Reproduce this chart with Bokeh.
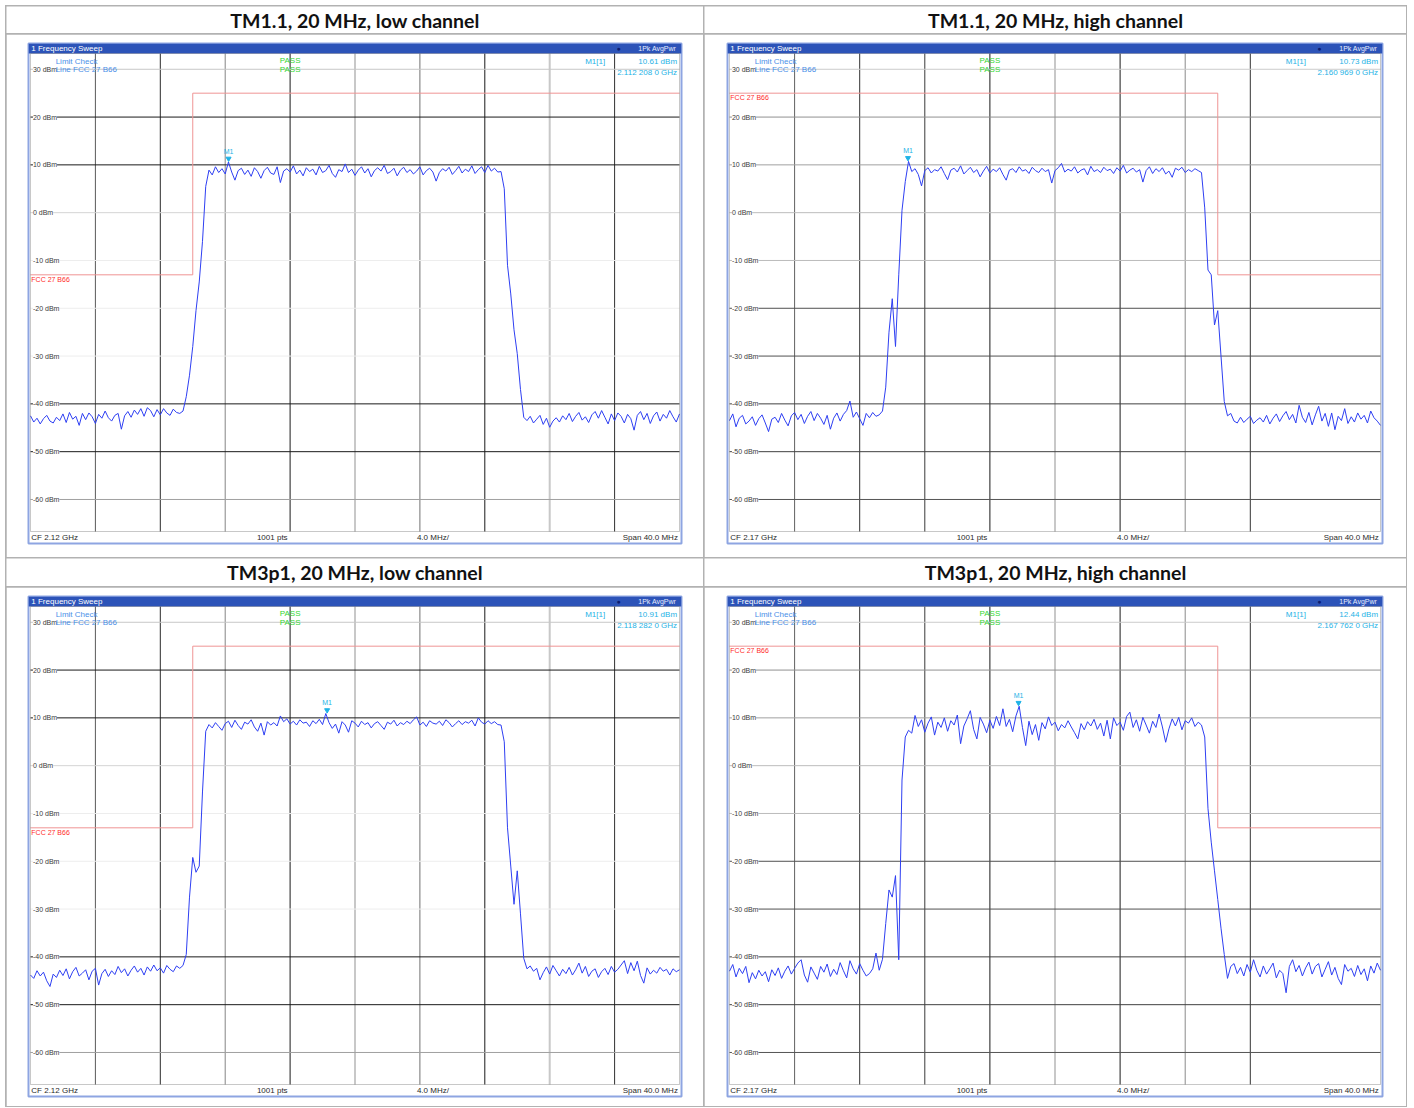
import numpy as np
from bokeh.plotting import figure
from bokeh.layouts import row, column
from bokeh.models import Range1d, Label, BoxAnnotation
from bokeh.embed import file_html
from bokeh.resources import INLINE
from bokeh.core.properties import value

# ------------------------------------------------------------------ data
panel_titles = ["TM1.1, 20 MHz, low channel", "TM1.1, 20 MHz, high channel",
                "TM3p1, 20 MHz, low channel", "TM3p1, 20 MHz, high channel"]
center_freq_mhz = [2120.0, 2170.0, 2120.0, 2170.0]
cf_texts = ["CF 2.12 GHz", "CF 2.17 GHz", "CF 2.12 GHz", "CF 2.17 GHz"]
span_mhz = 40.0
freq_div_mhz = 4.0
points_text = "1001 pts"
div_text = "4.0 MHz/"
span_text = "Span 40.0 MHz"

ref_top_dbm = 33.3
display_range_db = 100.0
level_ticks_dbm = [30, 20, 10, 0, -10, -20, -30, -40, -50, -60]
level_tick_labels = ["30 dBm", "20 dBm", "10 dBm", "0 dBm", "-10 dBm", "-20 dBm",
                     "-30 dBm", "-40 dBm", "-50 dBm", "-60 dBm"]

limit_name = "FCC 27 B66"
limit_low_ch_freq_mhz = [2100.0, 2110.0, 2110.0, 2140.0]
limit_low_ch_dbm = [-13.0, -13.0, 25.0, 25.0]
limit_high_ch_freq_mhz = [2150.0, 2180.0, 2180.0, 2190.0]
limit_high_ch_dbm = [25.0, 25.0, -13.0, -13.0]

marker_freq_mhz = [2112.2080, 2160.9690, 2118.2820, 2167.7620]
marker_level_dbm = [10.61, 10.73, 10.91, 12.44]
marker_level_text = ["10.61 dBm", "10.73 dBm", "10.91 dBm", "12.44 dBm"]
marker_freq_text = ["2.112 208 0 GHz", "2.160 969 0 GHz", "2.118 282 0 GHz", "2.167 762 0 GHz"]

# traces (dBm), sampled evenly across the 40 MHz span
tm11_low_dbm = [
    -42.5, -43.8, -43.0, -44.2, -43.1, -42.4, -43.6, -44.0, -42.8, -43.5,
    -42.1, -43.9, -41.8, -43.2, -42.6, -44.5, -42.0, -43.3, -41.9, -42.7,
    -44.1, -42.2, -43.0, -41.5, -42.9, -43.6, -42.4, -42.0, -45.3, -42.5,
    -41.6, -42.8, -41.3, -42.2, -41.0, -42.6, -40.8, -41.4, -42.7, -41.2,
    -42.3, -41.0, -41.9, -42.4, -41.1, -41.8, -42.0, -41.5,
    -38.5, -34.0, -28.0, -20.5, -14.5, -6.0, 5.5,
    8.9, 7.9, 9.6, 8.4, 9.2, 8.1, 10.6, 8.5, 6.8, 8.8,
    9.3, 8.0, 8.9, 7.6, 9.4, 8.6, 7.2, 8.8, 9.5, 8.3,
    8.0, 9.6, 6.3, 8.7, 9.2, 8.5, 9.8, 8.1, 8.9, 7.7,
    9.4, 8.6, 9.1, 7.9, 9.7, 8.4, 8.8, 9.9, 8.2, 7.4,
    9.0, 8.6, 10.2, 8.4, 9.1, 7.8, 8.9, 9.6, 8.3, 9.2,
    7.5, 8.8, 9.4, 8.7, 9.9, 8.2, 8.6, 9.3, 7.7, 8.9,
    9.5, 8.4, 9.0, 8.1, 8.7, 9.6, 7.9, 8.8, 9.3, 8.5,
    6.6, 8.4, 9.2, 8.7, 9.5, 8.0, 8.8, 9.7, 8.3, 9.1,
    8.6, 9.8, 8.2, 9.0, 9.6, 8.4, 9.9, 8.7, 9.3, 8.5,
    8.6,
    5.0, -11.0, -17.0, -24.5, -29.5, -37.0,
    -42.8, -43.5, -42.6, -44.0, -43.2, -42.4, -44.3, -43.0, -44.9, -43.6,
    -42.9, -43.8, -42.5, -43.3, -42.0, -43.7, -42.6, -41.8, -43.4, -42.7,
    -43.9, -42.3, -41.6, -43.0, -41.4, -42.8, -44.2, -42.1, -43.5, -41.9,
    -42.6, -44.0, -42.2, -43.1, -45.5, -42.4, -41.6, -43.3, -42.0, -44.1,
    -42.5, -41.7, -43.6, -42.2, -43.0, -41.4, -42.7, -43.8, -42.1,
]

tm11_high_dbm = [
    -43.5, -42.1, -44.8, -43.0, -42.4, -44.2, -43.6, -42.7, -44.5, -43.1,
    -42.3, -44.0, -45.8, -43.2, -42.8, -43.9, -42.0, -43.4, -44.6, -42.5,
    -41.8, -43.3, -42.2, -44.1, -42.6, -41.6, -43.5, -42.0, -43.0, -44.3,
    -42.4, -45.3, -43.0, -41.9, -43.6, -42.2, -41.4, -39.4, -42.8, -41.7,
    -43.1, -44.5, -42.0, -42.9, -41.8, -42.6, -42.3, -41.5,
    -36.5, -25.0, -18.0, -28.0, -13.0, 0.5, 6.5,
    10.73, 8.6, 9.2, 8.0, 5.6, 8.8, 9.4, 8.3, 9.0, 8.7,
    9.6, 8.2, 6.9, 8.9, 9.3, 8.5, 9.8, 8.1, 8.8, 9.5,
    8.4, 9.0, 7.5, 8.7, 9.7, 8.3, 9.1, 8.6, 9.4, 8.0,
    6.8, 8.9, 9.2, 8.4, 9.6, 8.7, 9.0, 8.2, 9.5, 8.8,
    8.4, 9.3, 8.6, 9.0, 6.2, 8.8, 9.4, 10.3, 8.5, 9.1,
    8.7, 9.6, 8.3, 8.9, 9.2, 7.9, 9.7, 8.6, 9.0, 8.4,
    9.5, 8.8, 9.1, 8.2, 9.4, 8.7, 9.9, 8.3, 8.9, 9.3,
    8.5, 9.0, 6.4, 8.8, 9.6, 8.2, 9.2, 8.6, 9.4, 8.1,
    8.7, 7.4, 9.3, 8.9, 9.5, 8.4, 9.0, 8.6, 9.2, 8.8,
    8.4,
    1.0, -12.0, -13.0, -23.5, -20.5, -30.0, -39.5,
    -42.5, -42.0, -43.6, -44.0, -42.8, -43.9, -43.2, -42.6, -44.1, -43.4,
    -42.9, -43.8, -42.4, -44.2, -43.0, -42.1, -43.7, -42.5, -41.6, -43.3,
    -42.2, -44.0, -40.3, -42.8, -43.9, -41.8, -44.4, -42.3, -40.5, -43.6,
    -42.0, -44.7, -41.9, -45.4, -42.6, -43.5, -41.0, -44.1, -42.7, -43.8,
    -41.9, -43.2, -42.4, -44.0, -41.5, -42.9, -43.6, -44.5,
]

tm3p1_low_dbm = [
    -43.8, -44.5, -42.9, -44.0, -43.2, -45.0, -46.2, -43.6, -44.3, -42.8,
    -43.9, -42.5, -44.6, -43.1, -42.2, -44.0, -43.4, -42.7, -44.8, -43.0,
    -42.4, -45.9, -43.5, -42.6, -44.1, -42.9, -43.7, -42.0, -43.3, -42.5,
    -44.0, -42.8, -41.9, -43.2, -42.4, -43.8, -42.1, -43.0, -41.7, -42.9,
    -42.3, -43.4, -41.8, -42.6, -43.1, -41.9, -42.4, -41.8,
    -39.5, -27.5, -19.2, -22.3, -21.0, -5.5, 7.2,
    8.6, 7.9, 9.0, 8.2, 7.4, 8.8, 9.3, 8.0, 9.5, 8.4,
    7.6, 9.1, 8.7, 9.6, 8.1, 7.2, 8.9, 6.4, 9.2, 8.5,
    9.0, 8.3, 10.4, 9.2, 9.8, 8.7, 9.3, 8.5, 9.6, 8.9,
    9.1, 8.2, 9.4, 8.8, 9.7, 8.6, 10.91, 9.0, 7.8, 8.7,
    6.8, 9.2, 8.5, 7.0, 9.4, 8.9, 8.1, 9.3, 8.6, 9.0,
    7.9, 8.8, 9.2, 8.4, 7.6, 9.1, 8.7, 9.5, 8.3, 9.0,
    8.6, 9.3, 8.8, 9.6, 10.2, 8.5, 9.1, 8.2, 9.4, 8.9,
    8.7, 9.3, 8.4, 9.6, 9.0, 8.1, 8.8, 9.4, 8.6, 9.2,
    8.9, 9.5, 8.3, 10.0, 9.1, 8.7, 9.4, 8.8, 9.2, 8.6,
    8.5,
    5.0, -13.0, -21.0, -29.0, -22.0, -31.0, -40.3,
    -42.5, -41.9, -43.0, -42.4, -44.8, -43.3, -42.1, -43.6, -41.8, -42.9,
    -44.0, -42.6, -43.5, -42.2, -43.8, -42.7, -41.3, -43.4, -42.0, -44.1,
    -43.0, -42.5, -44.3, -43.1, -42.4, -43.7, -42.0, -43.2, -42.6, -41.7,
    -40.8, -43.5, -41.2, -42.9, -40.9, -43.9, -45.5, -42.3, -43.6, -42.8,
    -43.4, -42.2, -43.0, -42.6, -43.8, -42.5, -43.1, -42.7,
]

tm3p1_high_dbm = [
    -43.0, -41.6, -44.2, -42.4, -43.5, -42.0, -45.4, -43.3, -44.6, -42.8,
    -44.0, -43.1, -45.2, -42.7, -43.9, -42.3, -44.5, -43.0, -41.9, -43.6,
    -42.4, -41.3, -40.6, -43.8, -45.3, -42.1, -43.4, -44.7, -42.0, -43.2,
    -41.5, -44.1, -42.6, -43.7, -41.2, -42.9, -44.4, -40.8, -42.5, -43.6,
    -41.4, -42.8, -44.0, -43.5, -42.5,
    -39.2, -42.8, -40.5, -33.0, -26.0, -27.5, -23.0, -40.6, -3.0, 6.0,
    7.4, 6.8, 10.5, 8.2, 9.6, 7.0, 8.9, 10.2, 6.4, 9.1,
    8.0, 10.0, 7.2, 9.4, 8.5, 10.6, 4.6, 8.3, 9.8, 11.5,
    7.6, 5.6, 10.1, 8.7, 6.9, 9.5, 7.8, 10.3, 8.4, 11.9,
    8.2, 9.7, 7.1, 10.4, 12.44, 8.0, 4.2, 9.3, 6.5, 8.6,
    5.3, 9.0, 7.7, 10.2, 8.4, 9.1, 7.3, 8.6, 7.9, 9.4,
    8.1, 6.9, 5.6, 8.8, 7.5, 9.2, 8.3, 9.7, 7.6, 8.9,
    6.2, 9.5, 5.6, 10.0, 8.4, 9.1, 7.4, 10.3, 11.2, 8.0,
    9.6, 7.2, 10.1, 8.5, 6.8, 9.3, 8.0, 10.8, 8.1, 4.9,
    7.7, 9.8, 8.3, 10.1, 7.5, 9.4, 8.9, 10.0, 8.2, 9.1,
    8.5,
    6.0, -9.0, -16.0, -22.0, -28.0, -34.0, -39.5,
    -44.5, -42.0, -41.4, -43.5, -42.2, -44.0, -41.6, -43.2, -40.6, -42.8,
    -44.2, -41.9, -43.6, -42.5, -41.3, -44.4, -42.8, -43.5, -47.5, -42.0,
    -40.6, -43.1, -41.8, -44.0, -42.3, -41.1, -43.6, -42.0, -41.4, -44.2,
    -42.6, -41.0, -43.8, -42.2, -44.5, -45.8, -41.6, -43.0, -42.4, -44.1,
    -41.8, -43.7, -42.5, -45.0, -41.9, -43.4, -41.3, -42.8,
]

traces = [tm11_low_dbm, tm11_high_dbm, tm3p1_low_dbm, tm3p1_high_dbm]
limits = [(limit_low_ch_freq_mhz, limit_low_ch_dbm), (limit_high_ch_freq_mhz, limit_high_ch_dbm),
          (limit_low_ch_freq_mhz, limit_low_ch_dbm), (limit_high_ch_freq_mhz, limit_high_ch_dbm)]

# ------------------------------------------------------------------ styles
BAR = "#2c53b8"
OUTLINE = "#8ea5e2"
TRACE = "#2e3ff2"
LIMIT = "#ef9494"
CYAN = "#1eb2e6"
LIGHTBLUE = "#4a8fe8"
GREEN = "#33d633"
TXT = "#2a2a2a"
FONT = "Liberation Sans"

vgrid_style = {
    "left": (["#5a5a5a", "#2a2a2a", "#858585", "#1a1a1a", "#c8c8c8", "#727272", "#1a1a1a", "#c8c8c8", "#303030"],
             [1, 1, 1, 1, 2, 1, 1, 2, 1], [1, 1, 1, 1, 1, 1, 1, 1, 1]),
    "right": (["#606060", "#333333", "#3a3a3a", "#1a1a1a", "#c8c8c8", "#1a1a1a", "#8a8a8a", "#333333", "#ffffff"],
              [1, 1, 1, 1, 2, 1, 1, 1, 1], [1, 1, 1, 1, 1, 1, 1, 1, 0]),
}
hgrid_style = {
    "left": ["#c8c8c8", "#1a1a1a", "#1a1a1a", "#d4d4d4", "#ededed", "#ededed", "#ededed", "#1a1a1a", "#1a1a1a", "#a0a0a0"],
    "right": ["#cccccc", "#909090", "#a0a0a0", "#bcbcbc", "#bcbcbc", "#505050", "#505050", "#404040", "#404040", "#555555"],
}

LEFT_W, RIGHT_W = 697, 702
ROW1_H, ROW2_H = 523, 519
TITLE1_H, TITLE2_H = 27, 28
PLOT_H = 478
BAR_H = 10
FOOT_H = 12


def make_title(text, w, h):
    t = figure(width=w, height=h, x_range=Range1d(0, 1), y_range=Range1d(0, 1),
               x_axis_type=None, y_axis_type=None, toolbar_location=None,
               output_backend="svg", min_border=0, outline_line_color=None,
               background_fill_color="white", border_fill_color="white")
    t.add_layout(Label(x=0.5, y=0.5, text=text, text_align="center", text_baseline="middle",
                       text_font="Lato", text_font_style="bold", text_font_size="19.5px",
                       text_color="#111111"))
    return t


def make_panel(i, side, cell_w, cell_h, pad_l, pad_t):
    fc = center_freq_mhz[i]
    f0, f1 = fc - span_mhz / 2, fc + span_mhz / 2
    frame_w = 653 if side == "left" else 655
    plot_w = frame_w - 4
    mpp = span_mhz / plot_w
    dpp = display_range_db / PLOT_H
    y_top = ref_top_dbm
    y_bot = ref_top_dbm - display_range_db
    p = figure(frame_width=frame_w, frame_height=PLOT_H + BAR_H + FOOT_H,
               min_border_left=pad_l, min_border_right=cell_w - pad_l - frame_w,
               min_border_top=pad_t, min_border_bottom=cell_h - pad_t - (PLOT_H + BAR_H + FOOT_H),
               x_range=Range1d(f0 - 2 * mpp, f1 + 2 * mpp),
               y_range=Range1d(y_bot - FOOT_H * dpp, y_top + BAR_H * dpp),
               x_axis_type=None, y_axis_type=None, toolbar_location=None,
               output_backend="svg", background_fill_color="white", border_fill_color="white",
               outline_line_color=OUTLINE, outline_line_width=2)

    # grid
    vx = [f0 + freq_div_mhz * k for k in range(1, 10)]
    vcols, vwid, valpha = vgrid_style[side]
    p.segment(x0=vx, y0=[y_bot] * 9, x1=vx, y1=[y_top] * 9,
              line_color=vcols, line_width=vwid, line_alpha=valpha)
    p.segment(x0=[f0] * len(level_ticks_dbm), y0=level_ticks_dbm,
              x1=[f1] * len(level_ticks_dbm), y1=level_ticks_dbm,
              line_color=hgrid_style[side], line_width=1)

    # limit line
    lf, ll = limits[i]
    p.line(lf, ll, line_color=LIMIT, line_width=1)

    # trace
    lv = traces[i]
    freq = np.linspace(f0, f1, len(lv))
    p.line(freq, lv, line_color=TRACE, line_width=1)

    # level labels
    p.text(x=[f0 + 0.15] * len(level_ticks_dbm), y=level_ticks_dbm, text=level_tick_labels,
           text_font=value(FONT), text_font_size="7px", text_color="#3a3a3a",
           text_baseline="middle", text_align="left",
           background_fill_color="white")

    # limit line name
    p.text(x=[lf[0] + 0.05], y=[ll[0] - 1.0], text=[limit_name], text_font=value(FONT),
           text_font_size="7px", text_color="#ff2a2a", text_baseline="middle", text_align="left")

    # marker
    mf, ml = marker_freq_mhz[i], marker_level_dbm[i]
    p.scatter([mf], [ml + 0.7], marker="inverted_triangle", size=5,
              fill_color=CYAN, line_color=CYAN)
    p.text(x=[mf], y=[ml + 1.5], text=["M1"], text_font=value(FONT), text_font_size="7px",
           text_color=CYAN, text_align="center", text_baseline="bottom")

    # plot area border and title bar
    p.add_layout(BoxAnnotation(bottom=y_top, fill_color=BAR, fill_alpha=1, line_alpha=0))
    p.add_layout(BoxAnnotation(left=f0, right=f1, bottom=y_bot, top=y_top, fill_alpha=0,
                               line_color="#4a4a4a", line_width=1))

    bar_y = y_top + BAR_H * dpp / 2
    p.add_layout(Label(x=f0 + 0.05, y=bar_y, text="1 Frequency Sweep", text_font=FONT,
                       text_font_size="8px", text_color="white", text_baseline="middle"))
    p.add_layout(Label(x=f0 + 36.25, y=bar_y, text="\u25cf", text_font=FONT,
                       text_font_size="7px", text_color="#0c1c70", text_baseline="middle",
                       text_align="center"))
    p.add_layout(Label(x=f1 - 0.2, y=bar_y, text="1Pk AvgPwr", text_font=FONT,
                       text_font_size="7px", text_color="#e6ecff", text_baseline="middle",
                       text_align="right"))

    # limit check header
    p.add_layout(Label(x=f0 + 1.55, y=y_top - 1.6, text="Limit Check", text_font=FONT,
                       text_font_size="8px", text_color=LIGHTBLUE, text_baseline="middle"))
    p.add_layout(Label(x=f0 + 1.55, y=y_top - 3.45, text="Line FCC 27 B66", text_font=FONT,
                       text_font_size="8px", text_color=LIGHTBLUE, text_baseline="middle"))
    for yy in (y_top - 1.45, y_top - 3.3):
        p.add_layout(Label(x=f0 + 16.0, y=yy, text="PASS", text_font=FONT, text_font_size="8px",
                           text_color=GREEN, text_baseline="middle", text_align="center"))

    # marker readout
    p.add_layout(Label(x=f0 + 34.8, y=y_top - 1.7, text="M1[1]", text_font=FONT,
                       text_font_size="8px", text_color=CYAN, text_baseline="middle",
                       text_align="center"))
    p.add_layout(Label(x=f1 - 0.15, y=y_top - 1.7, text=marker_level_text[i], text_font=FONT,
                       text_font_size="8px", text_color=CYAN, text_baseline="middle",
                       text_align="right"))
    p.add_layout(Label(x=f1 - 0.15, y=y_top - 4.0, text=marker_freq_text[i], text_font=FONT,
                       text_font_size="8px", text_color=CYAN, text_baseline="middle",
                       text_align="right"))

    # footer
    foot_y = y_bot - FOOT_H * dpp / 2
    p.add_layout(Label(x=f0 + 0.05, y=foot_y, text=cf_texts[i], text_font=FONT,
                       text_font_size="8px", text_color=TXT, text_baseline="middle"))
    p.add_layout(Label(x=f0 + 14.9, y=foot_y, text=points_text, text_font=FONT,
                       text_font_size="8px", text_color=TXT, text_baseline="middle",
                       text_align="center"))
    p.add_layout(Label(x=f0 + 24.8, y=foot_y, text=div_text, text_font=FONT,
                       text_font_size="8px", text_color=TXT, text_baseline="middle",
                       text_align="center"))
    p.add_layout(Label(x=f1 - 0.1, y=foot_y, text=span_text, text_font=FONT,
                       text_font_size="8px", text_color=TXT, text_baseline="middle",
                       text_align="right"))
    return p


t1 = make_title(panel_titles[0], LEFT_W, TITLE1_H)
t2 = make_title(panel_titles[1], RIGHT_W, TITLE1_H)
t3 = make_title(panel_titles[2], LEFT_W, TITLE2_H)
t4 = make_title(panel_titles[3], RIGHT_W, TITLE2_H)

p1 = make_panel(0, "left", LEFT_W, ROW1_H, 22, 9)
p2 = make_panel(1, "right", RIGHT_W, ROW1_H, 23, 9)
p3 = make_panel(2, "left", LEFT_W, ROW2_H, 22, 9)
p4 = make_panel(3, "right", RIGHT_W, ROW2_H, 23, 9)

root = column(row(t1, t2, spacing=1), row(p1, p2, spacing=1),
              row(t3, t4, spacing=1), row(p3, p4, spacing=1),
              spacing=1, styles={"background-color": "#b2b2b2", "padding": "1px",
                                 "margin-left": "5px", "margin-top": "5px"})

open("out.html", "w").write(file_html(root, INLINE))
